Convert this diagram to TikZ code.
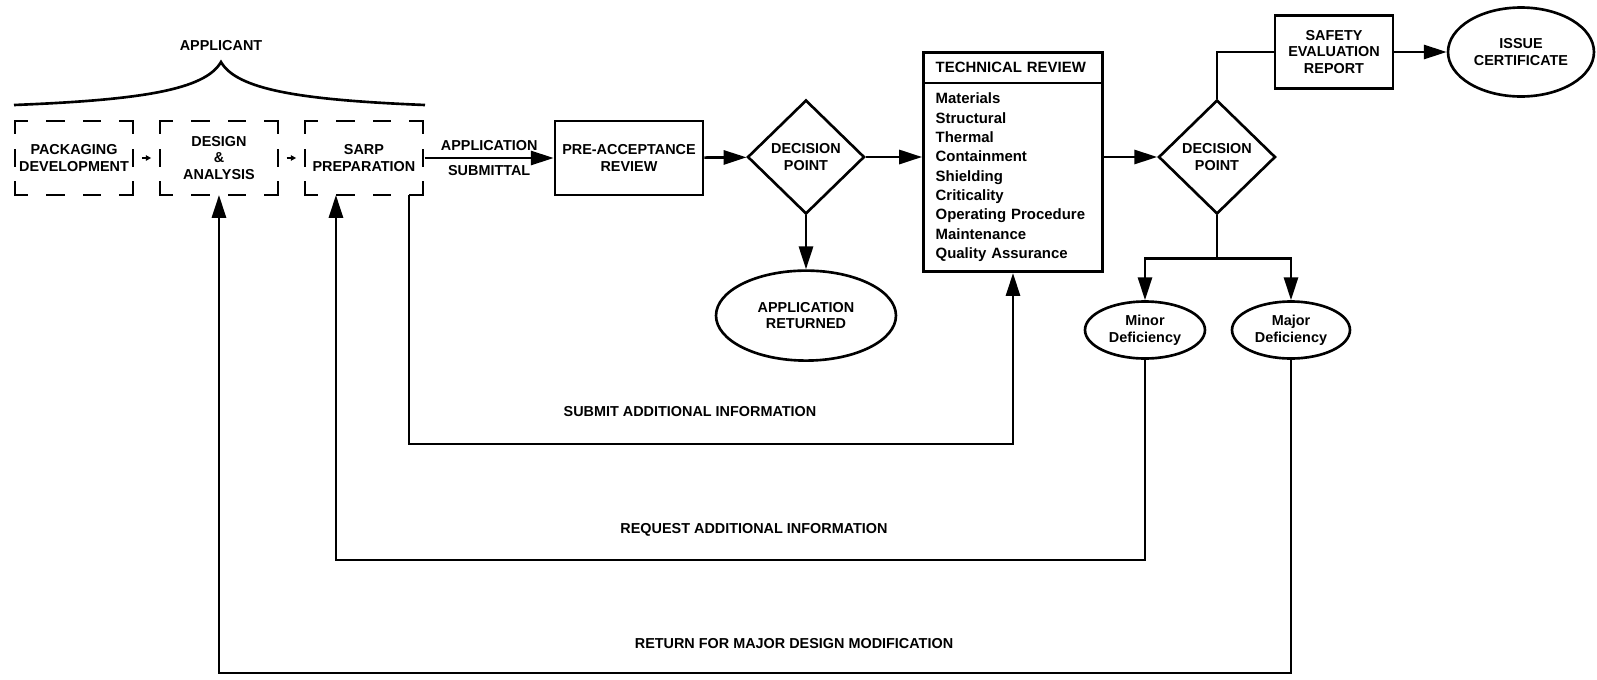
\documentclass[tikz,border=0pt]{standalone}
\usepackage{fontspec}
\setmainfont{Liberation Sans}
\usetikzlibrary{shapes.geometric, shapes.multipart, positioning, arrows.meta, calc}

\begin{document}
\begin{tikzpicture}[x=0.02cm, y=-0.02cm, >={Triangle[length=13pt, width=8pt]},
  font=\fontsize{8.2}{9.5}\selectfont\bfseries,
  box/.style={draw, line width=1.5pt, minimum width=2.36cm, minimum height=1.48cm, inner sep=0pt, align=center},
  appbox/.style={minimum width=2.36cm, minimum height=1.48cm, inner sep=0pt, outer sep=0pt, align=center},
  hdash/.style={line width=1.5pt, line cap=rect, dash pattern=on 6.8pt off 11.7pt on 9pt off 11.7pt on 9pt off 11.7pt on 6.8pt off 20pt},
  vdash/.style={line width=1.5pt, line cap=rect, dash pattern=on 6.8pt off 9.6pt on 9pt off 9.6pt on 6.8pt off 20pt},
  decision/.style={draw, diamond, line width=1.5pt, minimum width=2.34cm, minimum height=2.28cm, inner sep=0pt, align=center},
  outcome/.style={draw, ellipse, line width=1.5pt, inner sep=0pt, align=center},
  flow/.style={->, line width=1.5pt},
  link/.style={line width=1.5pt},
  nudge/.style={-{Triangle[length=3pt, width=3pt]}, line width=0.8pt, shorten <=5pt, shorten >=5pt}]

  \useasboundingbox (0,0) rectangle (1597,680);

  \node[appbox] (pkg) at (74,158) {PACKAGING\\DEVELOPMENT};
  \node[appbox, right=0.54cm of pkg] (design) {DESIGN\\\&\\ANALYSIS};
  \node[appbox, right=0.54cm of design] (sarp) {SARP\\PREPARATION};
  \draw[hdash] (pkg.north west) -- (pkg.north east) (pkg.south west) -- (pkg.south east);
  \draw[vdash] (pkg.north west) -- (pkg.south west) (pkg.north east) -- (pkg.south east);
  \draw[hdash] (design.north west) -- (design.north east) (design.south west) -- (design.south east);
  \draw[vdash] (design.north west) -- (design.south west) (design.north east) -- (design.south east);
  \draw[hdash] (sarp.north west) -- (sarp.north east) (sarp.south west) -- (sarp.south east);
  \draw[vdash] (sarp.north west) -- (sarp.south west) (sarp.north east) -- (sarp.south east);
  \draw[nudge] (pkg) -- (design);
  \draw[nudge] (design) -- (sarp);

  \node (applicant) at (221,46) {APPLICANT};
  \draw[link] (14,105) .. controls (140,100) and (205,90) .. (221,62)
    .. controls (237,90) and (302,100) .. (425,105);

  \node[box, minimum width=2.96cm] (preacc) at (629,158) {PRE-ACCEPTANCE\\REVIEW};
  \draw[flow] ([xshift=1pt]sarp.east) -- (preacc) node[midway, above] {APPLICATION} node[midway, below] {SUBMITTAL};

  \node[decision] (dec1) at (806,157) {DECISION\\POINT};
  \draw[flow] (preacc) -- (dec1);
  \node[outcome, minimum width=3.6cm, minimum height=1.8cm, below=1.08cm of dec1] (returned) {APPLICATION\\RETURNED};
  \draw[flow] (dec1) -- (returned);

  \node[draw, rectangle split, rectangle split parts=2, line width=1.5pt, text width=88pt,
    inner xsep=7pt, inner ysep=5pt, align=left, font=\fontsize{8.5}{11}\selectfont\bfseries] (tech) at (1013,162)
    {TECHNICAL REVIEW
     \nodepart{two} Materials\\Structural\\Thermal\\Containment\\Shielding\\Criticality\\Operating Procedure\\Maintenance\\Quality Assurance};
  \draw[flow] (dec1) -- (dec1 -| tech.west);

  \node[decision] (dec2) at (1217,157) {DECISION\\POINT};
  \draw[flow] (tech.east |- dec2) -- (dec2);

  \node[box, minimum height=1.46cm] (ser) at (1334,52) {SAFETY\\EVALUATION\\REPORT};
  \node[outcome, minimum width=2.92cm, minimum height=1.78cm] (cert) at (1521,52) {ISSUE\\CERTIFICATE};
  \draw[link] (dec2) |- (ser);
  \draw[flow] (ser) -- (cert);

  \coordinate[below=0.86cm of dec2.south] (fork);
  \node[outcome, minimum width=2.4cm, minimum height=1.14cm] (minor) at (1145,330) {Minor\\Deficiency};
  \node[outcome, minimum width=2.36cm, minimum height=1.14cm] (major) at (1291,330) {Major\\Deficiency};
  \draw[link] (dec2) -- (fork);
  \draw[flow] (fork) -| (minor);
  \draw[flow] (fork) -| (major);

  \coordinate (sarp-out) at ([xshift=-0.28cm]sarp.south east);
  \coordinate (sarp-in) at ([xshift=-0.56cm]sarp.south);
  \coordinate (low-a) at (0,444);
  \coordinate (low-b) at (0,560);
  \coordinate (low-c) at (0,673);

  \draw[flow] (sarp-out) -- (sarp-out |- low-a) -| (tech);
  \draw[flow] (minor) -- (minor |- low-b) -| (sarp-in);
  \draw[flow] (major) -- (major |- low-c) -| (design);

  \node (submit-note) at (690,412) {SUBMIT ADDITIONAL INFORMATION};
  \node (request-note) at (754,530) {REQUEST ADDITIONAL INFORMATION};
  \node (return-note) at (794,644) {RETURN FOR MAJOR DESIGN MODIFICATION};

\end{tikzpicture}
\end{document}
